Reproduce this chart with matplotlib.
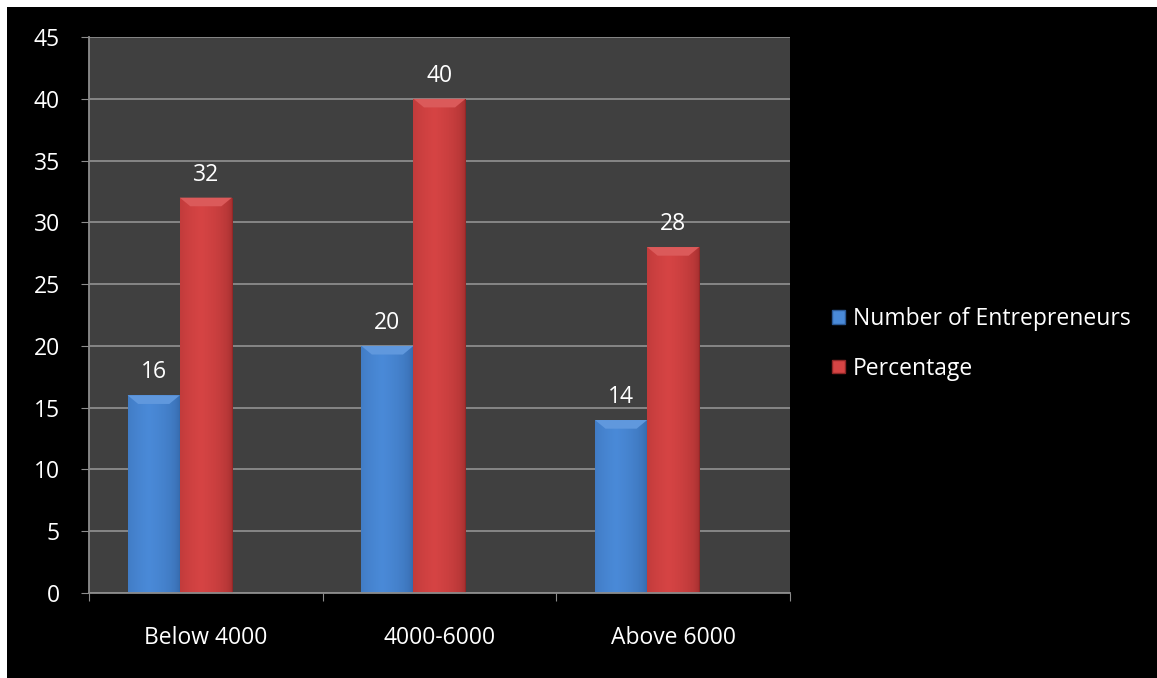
import matplotlib
matplotlib.use("Agg")
import matplotlib.pyplot as plt
import numpy as np
from matplotlib.patches import Rectangle, Polygon

categories = ["Below 4000", "4000-6000", "Above 6000"]
entrepreneurs = [16, 20, 14]
percentage = [32, 40, 28]
series_names = ["Number of Entrepreneurs", "Percentage"]
y_ticks = [0, 5, 10, 15, 20, 25, 30, 35, 40, 45]

plt.rcParams['font.family'] = ['Open Sans', 'DejaVu Sans']
fs = 16.5

fig = plt.figure(figsize=(11.57, 6.78), dpi=100, facecolor="white")
# black panel, thin white margin on top/left
fig.patches.append(Rectangle((7/1157, -0.1), 1.2, 1.1 - 7/678, transform=fig.transFigure,
                             facecolor="black", edgecolor="none", zorder=-10))

ax = fig.add_axes([89/1157, 85/678, 701/1157, 556/678])
ax.set_facecolor("#404040")

x = np.arange(len(categories))
w = 0.223
blue = ("#2c5a96", "#4a8ad8")
red = ("#8e2626", "#d64444")


def shade(bars, cols):
    dark = np.array(matplotlib.colors.to_rgb(cols[0]))
    light = np.array(matplotlib.colors.to_rgb(cols[1]))
    t = np.linspace(0, 1, 64)
    prof = np.clip(1 - np.abs(t - 0.4) / 0.6, 0, 1) ** 0.3
    img = dark[None, :] + (light - dark)[None, :] * prof[:, None]
    img = img[None, :, :]
    for b in bars:
        x0, y0 = b.get_x(), b.get_y()
        bw, bh = b.get_width(), b.get_height()
        im = ax.imshow(img, extent=[x0, x0 + bw, y0, y0 + bh], aspect="auto",
                       zorder=2, interpolation="bilinear")
        im.set_clip_path(b)
        # bevel on top
        hb, ib = 0.7, 0.045
        top = y0 + bh
        ax.add_patch(Polygon([[x0, top], [x0 + bw, top], [x0 + bw - ib, top - hb],
                              [x0 + ib, top - hb]], closed=True,
                             facecolor=light * 0.88 + 0.12, edgecolor="none", zorder=3))


b1 = ax.bar(x - w, entrepreneurs, w, color=blue[1], zorder=2, label=series_names[0])
b2 = ax.bar(x, percentage, w, color=red[1], zorder=2, label=series_names[1])
shade(b1, blue)
shade(b2, red)

for bars, vals in ((b1, entrepreneurs), (b2, percentage)):
    for b, v in zip(bars, vals):
        ax.annotate(str(v), (b.get_x() + b.get_width() / 2, v), xytext=(0, 8),
                    textcoords="offset points", ha="center", va="bottom",
                    color="white", fontsize=fs)

ax.set_xlim(-0.5, len(categories) - 0.5)
ax.set_ylim(0, 45)
ax.set_yticks(y_ticks)
ax.yaxis.grid(True, color="#8c8c8c", linewidth=1.3, zorder=1)
ax.set_axisbelow(True)

ax.set_xticks(np.arange(len(categories) + 1) - 0.5)
ax.set_xticklabels([])
ax.set_xticks(x, minor=True)
ax.set_xticklabels(categories, minor=True)
ax.tick_params(axis="x", which="major", direction="out", length=6, color="#8c8c8c")
ax.tick_params(axis="x", which="minor", length=0, pad=24, labelcolor="white", labelsize=fs)
ax.tick_params(axis="y", direction="out", length=6, color="#8c8c8c",
               labelcolor="white", labelsize=fs, pad=15)

for s in ("top", "right"):
    ax.spines[s].set_visible(False)
for s in ("left", "bottom"):
    ax.spines[s].set_color("#8c8c8c")
    ax.spines[s].set_linewidth(1.3)

leg = fig.legend(handles=[Rectangle((0, 0), 1, 1, facecolor=blue[1], edgecolor=blue[0]),
                          Rectangle((0, 0), 1, 1, facecolor=red[1], edgecolor=red[0])],
                 labels=series_names, loc="center left",
                 bbox_to_anchor=(832/1157, 1 - 344/678), frameon=False, borderpad=0,
                 borderaxespad=0, fontsize=fs, labelcolor="white",
                 handlelength=0.55, handleheight=0.55,
                 handletextpad=0.35, labelspacing=1.1)

fig.savefig("out.png", dpi=100, facecolor=fig.get_facecolor())
